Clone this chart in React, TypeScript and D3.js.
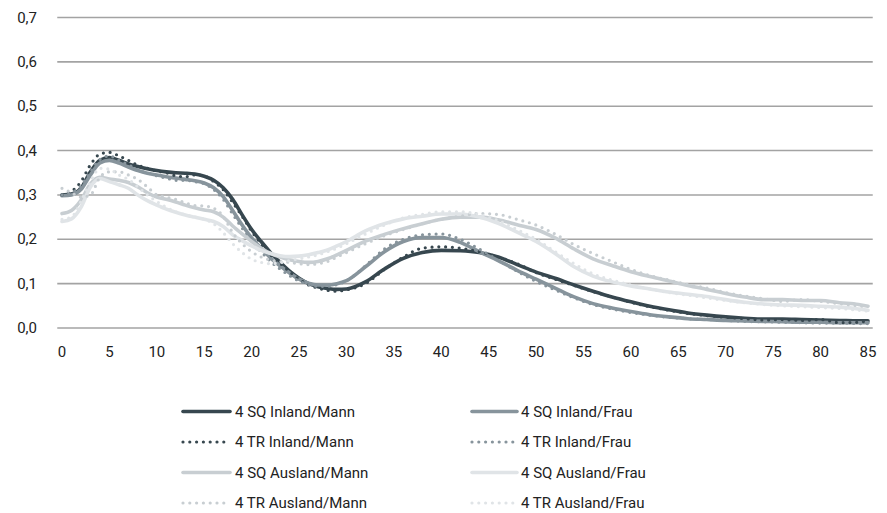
import React from "react";
import * as d3 from "d3";

const ages = [
  0, 1, 2, 3, 4, 5, 6, 7, 8, 9, 10, 11, 12, 13, 14, 15, 16, 17, 18, 19, 20,
  21, 22, 23, 24, 25, 26, 27, 28, 29, 30, 32, 34, 36, 38, 40, 42, 44, 46, 48,
  50, 52, 54, 56, 58, 60, 62, 64, 66, 68, 70, 72, 74, 76, 78, 80, 82, 84, 85,
];

const sqInlandMann = [
  0.300, 0.302, 0.315, 0.352, 0.378, 0.384, 0.378, 0.370, 0.364, 0.359, 0.355,
  0.352, 0.350, 0.349, 0.347, 0.342, 0.333, 0.316, 0.290, 0.255, 0.222,
  0.195, 0.170, 0.148, 0.128, 0.112, 0.100, 0.093, 0.089, 0.087, 0.088,
  0.104, 0.133, 0.157, 0.170, 0.175, 0.174, 0.170, 0.160, 0.143,
  0.126, 0.112, 0.097, 0.083, 0.070, 0.059, 0.049, 0.041, 0.034, 0.029,
  0.025, 0.022, 0.020, 0.020, 0.019, 0.018, 0.017, 0.016, 0.016,
];

const sqInlandFrau = [
  0.298, 0.300, 0.312, 0.345, 0.372, 0.378, 0.372, 0.363, 0.355, 0.349, 0.345,
  0.341, 0.338, 0.335, 0.332, 0.327, 0.316, 0.296, 0.265, 0.232, 0.203,
  0.180, 0.158, 0.140, 0.124, 0.110, 0.101, 0.097, 0.097, 0.100, 0.107,
  0.138, 0.172, 0.195, 0.204, 0.204, 0.193, 0.172, 0.152, 0.130,
  0.110, 0.090, 0.070, 0.055, 0.045, 0.037, 0.030, 0.025, 0.021, 0.019,
  0.017, 0.016, 0.015, 0.014, 0.013, 0.013, 0.012, 0.012, 0.012,
];

const trInlandMann = [
  0.300, 0.308, 0.330, 0.368, 0.392, 0.396, 0.388, 0.378, 0.367, 0.360, 0.354,
  0.350, 0.343, 0.341, 0.345, 0.343, 0.330, 0.312, 0.283, 0.252, 0.218,
  0.190, 0.165, 0.146, 0.127, 0.110, 0.097, 0.090, 0.085, 0.083, 0.086,
  0.100, 0.132, 0.160, 0.180, 0.183, 0.180, 0.172, 0.160, 0.145,
  0.125, 0.110, 0.096, 0.082, 0.070, 0.058, 0.048, 0.040, 0.033, 0.028,
  0.024, 0.021, 0.018, 0.019, 0.017, 0.019, 0.012, 0.013, 0.017,
];

const trInlandFrau = [
  0.300, 0.305, 0.320, 0.352, 0.380, 0.388, 0.378, 0.368, 0.356, 0.350, 0.343,
  0.338, 0.333, 0.333, 0.330, 0.325, 0.312, 0.290, 0.257, 0.225, 0.195,
  0.172, 0.150, 0.133, 0.118, 0.106, 0.098, 0.094, 0.094, 0.098, 0.106,
  0.140, 0.178, 0.200, 0.210, 0.212, 0.200, 0.178, 0.153, 0.128,
  0.105, 0.086, 0.068, 0.053, 0.043, 0.035, 0.029, 0.024, 0.021, 0.019,
  0.017, 0.015, 0.014, 0.013, 0.012, 0.011, 0.011, 0.010, 0.010,
];

const sqAuslandMann = [
  0.258, 0.265, 0.288, 0.325, 0.340, 0.336, 0.333, 0.328, 0.318, 0.305, 0.295,
  0.290, 0.284, 0.277, 0.271, 0.266, 0.262, 0.250, 0.230, 0.212, 0.195,
  0.180, 0.168, 0.160, 0.154, 0.150, 0.148, 0.150, 0.156, 0.165, 0.175,
  0.196, 0.211, 0.224, 0.235, 0.245, 0.250, 0.250, 0.244, 0.233,
  0.222, 0.203, 0.178, 0.156, 0.141, 0.127, 0.116, 0.106, 0.096, 0.087,
  0.078, 0.070, 0.064, 0.064, 0.062, 0.062, 0.057, 0.053, 0.049,
];

const sqAuslandFrau = [
  0.240, 0.246, 0.272, 0.318, 0.337, 0.330, 0.323, 0.315, 0.300, 0.287, 0.277,
  0.268, 0.261, 0.255, 0.250, 0.245, 0.240, 0.229, 0.210, 0.197, 0.185,
  0.175, 0.168, 0.163, 0.161, 0.162, 0.165, 0.170, 0.176, 0.185, 0.195,
  0.219, 0.235, 0.246, 0.252, 0.257, 0.257, 0.250, 0.236, 0.216,
  0.195, 0.168, 0.138, 0.117, 0.104, 0.095, 0.088, 0.081, 0.076, 0.071,
  0.064, 0.058, 0.054, 0.052, 0.051, 0.049, 0.047, 0.043, 0.040,
];

const trAuslandMann = [
  0.315, 0.305, 0.295, 0.300, 0.340, 0.352, 0.352, 0.345, 0.335, 0.318, 0.300,
  0.295, 0.290, 0.282, 0.276, 0.275, 0.270, 0.252, 0.215, 0.190, 0.172,
  0.160, 0.153, 0.150, 0.148, 0.145, 0.143, 0.145, 0.150, 0.160, 0.170,
  0.190, 0.208, 0.222, 0.235, 0.245, 0.252, 0.258, 0.256, 0.245,
  0.232, 0.212, 0.188, 0.168, 0.150, 0.132, 0.118, 0.108, 0.098, 0.090,
  0.080, 0.072, 0.066, 0.060, 0.064, 0.060, 0.055, 0.050, 0.048,
];

const trAuslandFrau = [
  0.245, 0.250, 0.285, 0.330, 0.360, 0.358, 0.345, 0.335, 0.318, 0.300, 0.285,
  0.272, 0.262, 0.255, 0.250, 0.245, 0.235, 0.215, 0.190, 0.170, 0.155,
  0.148, 0.145, 0.147, 0.152, 0.156, 0.160, 0.165, 0.172, 0.180, 0.190,
  0.212, 0.232, 0.248, 0.256, 0.262, 0.262, 0.256, 0.242, 0.222,
  0.200, 0.172, 0.145, 0.122, 0.108, 0.097, 0.088, 0.080, 0.074, 0.068,
  0.062, 0.057, 0.053, 0.050, 0.048, 0.046, 0.044, 0.040, 0.038,
];

const yTicks = [0, 0.1, 0.2, 0.3, 0.4, 0.5, 0.6, 0.7];
const xTicks = [0, 5, 10, 15, 20, 25, 30, 35, 40, 45, 50, 55, 60, 65, 70, 75, 80, 85];

const C_DARK = "#37474f";
const C_MED = "#87949c";
const C_LIGHT = "#c8ced2";
const C_LIGHTEST = "#e0e4e7";

const series = [
  { name: "4 SQ Inland/Mann", values: sqInlandMann, color: C_DARK, dotted: false },
  { name: "4 SQ Inland/Frau", values: sqInlandFrau, color: C_MED, dotted: false },
  { name: "4 TR Inland/Mann", values: trInlandMann, color: C_DARK, dotted: true },
  { name: "4 TR Inland/Frau", values: trInlandFrau, color: C_MED, dotted: true },
  { name: "4 SQ Ausland/Mann", values: sqAuslandMann, color: C_LIGHT, dotted: false },
  { name: "4 SQ Ausland/Frau", values: sqAuslandFrau, color: C_LIGHTEST, dotted: false },
  { name: "4 TR Ausland/Mann", values: trAuslandMann, color: C_LIGHT, dotted: true },
  { name: "4 TR Ausland/Frau", values: trAuslandFrau, color: C_LIGHTEST, dotted: true },
];

const FONT = "Roboto, 'Noto Sans', sans-serif";

export default function App() {
  const W = 887;
  const H = 513;
  const x = d3.scaleLinear().domain([0, 85]).range([62, 868]);
  const y = d3.scaleLinear().domain([0, 0.7]).range([328, 17.5]);
  const gridX0 = x(0) - (x(1) - x(0)) / 2;
  const gridX1 = x(85) + (x(1) - x(0)) / 2;

  const line = d3
    .line<number>()
    .x((_, i) => x(ages[i]))
    .y((d) => y(d))
    .curve(d3.curveMonotoneX);

  const drawOrder = [...series].reverse();
  const legendRows = [411.5, 442, 472.5, 503];
  const legendCols = [
    { x0: 183, x1: 230, tx: 235 },
    { x0: 472, x1: 517, tx: 521 },
  ];

  return (
    <svg
      width={W}
      height={H}
      style={{ position: "absolute", left: 0, top: 0, background: "#fff" }}
      fontFamily={FONT}
    >
      <rect x={0} y={0} width={W} height={H} fill="#fff" />
      {yTicks.map((t) => (
        <g key={"y" + t}>
          <line x1={gridX0} x2={gridX1} y1={y(t)} y2={y(t)} stroke="#a3a3a3" strokeWidth={1.6} />
          <text
            x={37}
            y={y(t)}
            textAnchor="end"
            dominantBaseline="central"
            fontSize={15}
            fill="#222"
          >
            {d3.format(".1f")(t).replace(".", ",")}
          </text>
        </g>
      ))}
      {xTicks.map((t) => (
        <text
          key={"x" + t}
          x={x(t)}
          y={352}
          textAnchor="middle"
          dominantBaseline="central"
          fontSize={15}
          fill="#222"
        >
          {t}
        </text>
      ))}
      {series.map((s) => (
        <path
          key={s.name}
          d={line(s.values) || ""}
          fill="none"
          stroke={s.color}
          strokeWidth={s.dotted ? 3.2 : 3.6}
          strokeLinecap="round"
          strokeLinejoin="round"
          strokeDasharray={s.dotted ? "0 6.8" : undefined}
        />
      ))}
      {series.map((s, i) => {
        const row = legendRows[Math.floor(i / 2)];
        const col = legendCols[i % 2];
        return (
          <g key={"lg" + s.name}>
            <line
              x1={col.x0}
              x2={col.x1}
              y1={row}
              y2={row}
              stroke={s.color}
              strokeWidth={s.dotted ? 3.2 : 3.6}
              strokeLinecap="round"
              strokeDasharray={s.dotted ? "0 6.8" : undefined}
            />
            <text
              x={col.tx}
              y={row}
              dominantBaseline="central"
              fontSize={15}
              fill="#222"
            >
              {s.name}
            </text>
          </g>
        );
      })}
    </svg>
  );
}
